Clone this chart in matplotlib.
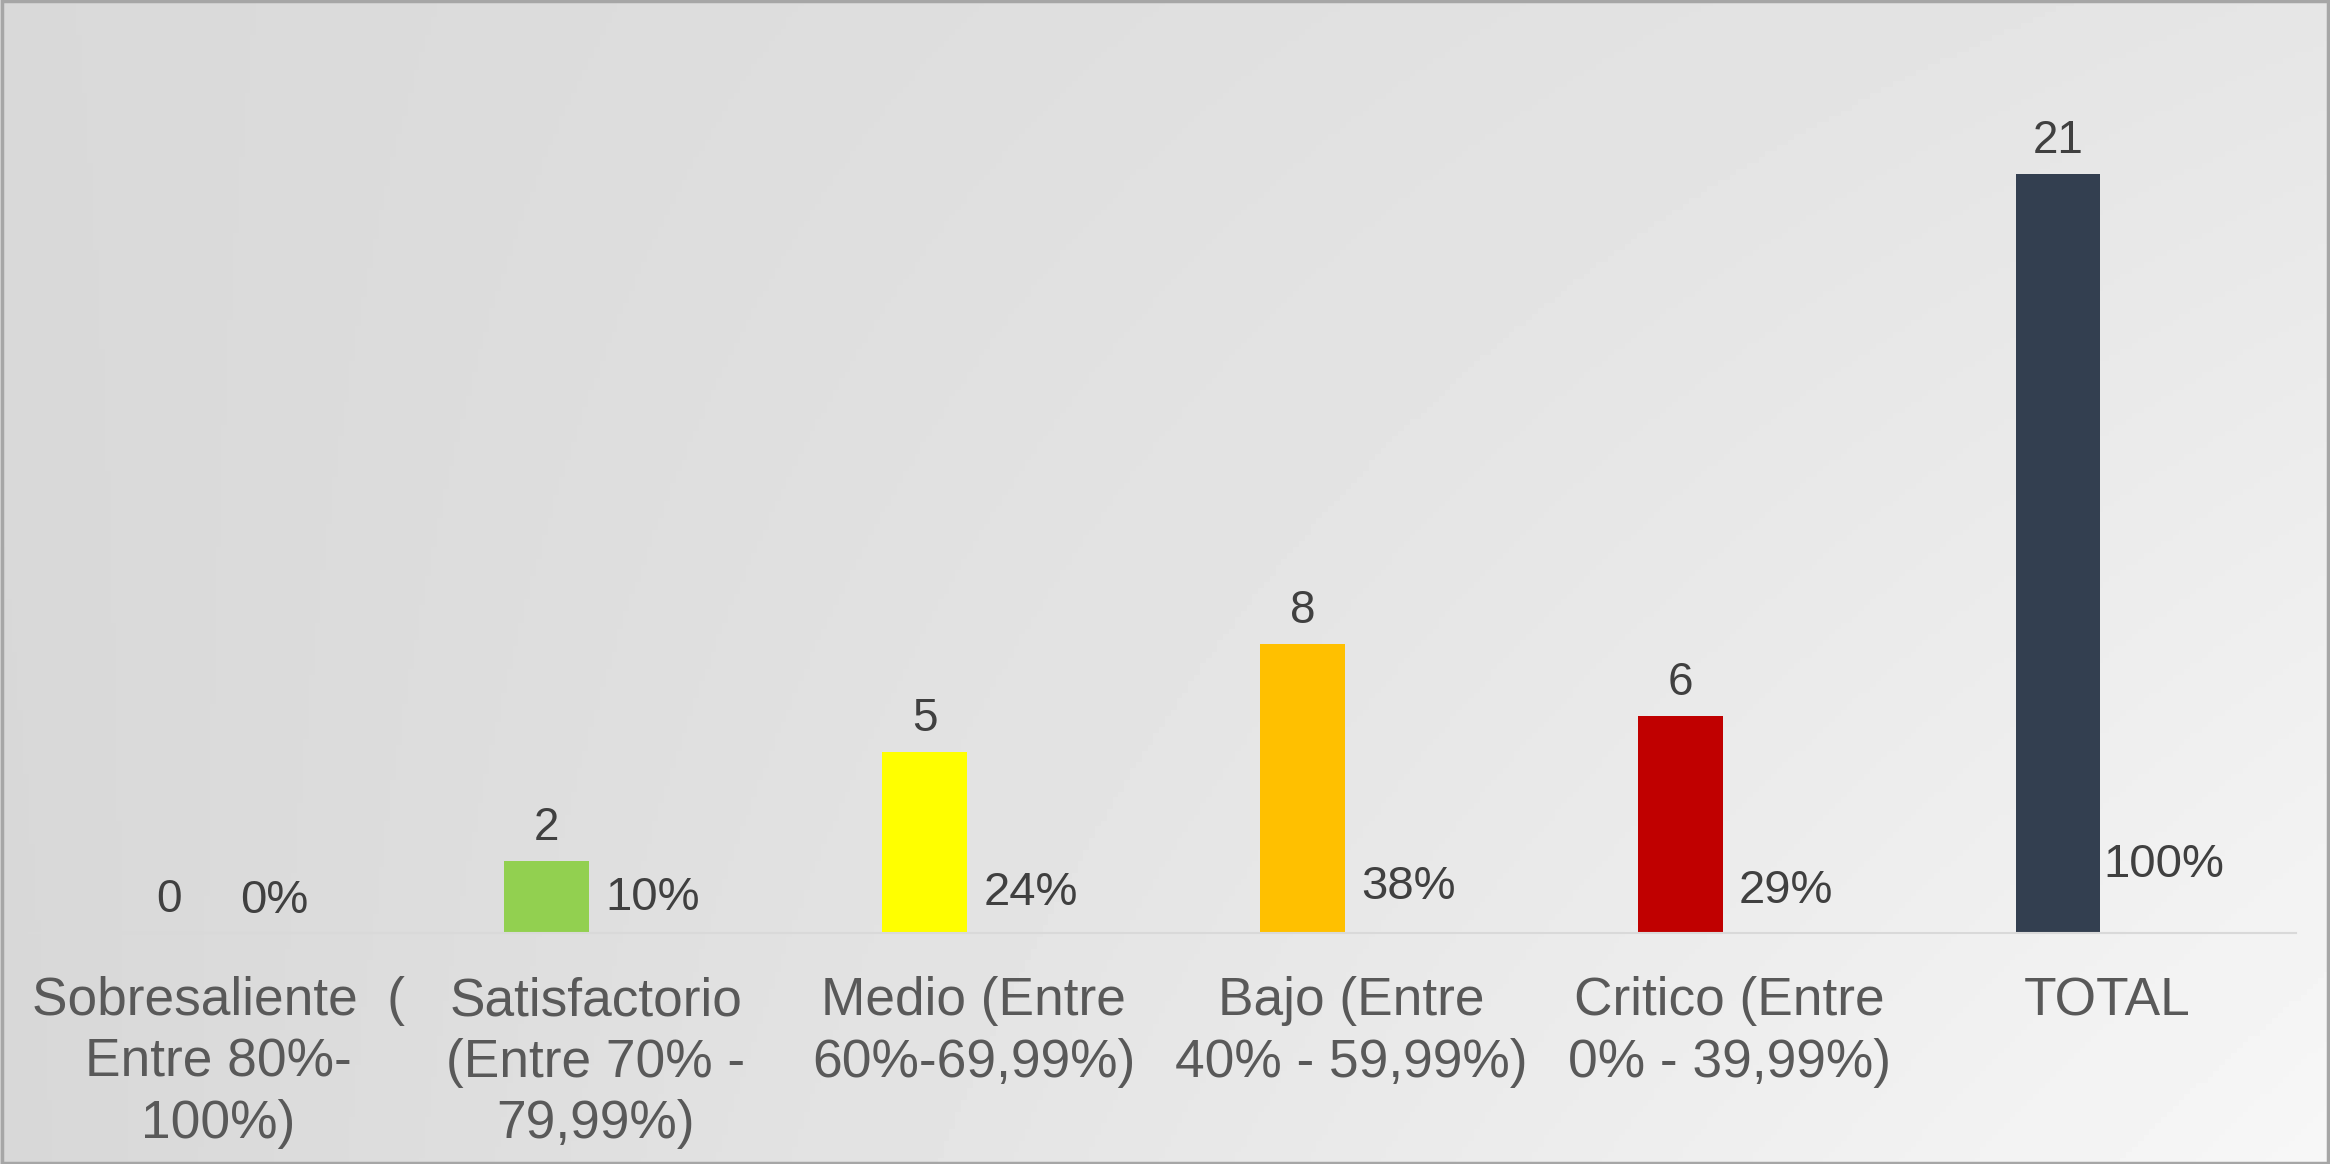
import numpy as np
import matplotlib.pyplot as plt
from matplotlib.patches import Rectangle

categorias = [
    "Sobresaliente  (\nEntre 80%-\n100%)",
    "Satisfactorio\n(Entre 70% -\n79,99%)",
    "Medio (Entre\n60%-69,99%)",
    "Bajo (Entre\n40% - 59,99%)",
    "Critico (Entre\n0% - 39,99%)",
    "TOTAL",
]
cantidad = [0, 2, 5, 8, 6, 21]
porcentaje = [0.00, 0.10, 0.24, 0.38, 0.29, 1.00]
colores = ["#92D050", "#92D050", "#FFFF00", "#FFC000", "#C00000", "#333F50"]

plt.rcParams['font.family'] = ['Liberation Sans', 'DejaVu Sans']

fig = plt.figure(figsize=(23.3, 11.64), dpi=100)

# fondo con degradado gris
bg = fig.add_axes([0, 0, 1, 1], zorder=-10)
gx, gy = np.meshgrid(np.linspace(0, 1, 400), np.linspace(0, 1, 200))
tl, tr, bl, br = 0.85, 0.90, 0.845, 0.968
grad = tl*(1-gx)*(1-gy) + tr*gx*(1-gy) + bl*(1-gx)*gy + br*gx*gy
bg.imshow(grad, cmap='gray', vmin=0, vmax=1, aspect='auto', extent=[0, 1, 1, 0])
bg.set_xlim(0, 1)
bg.set_ylim(1, 0)
bg.axis('off')

ax = fig.add_axes([0.0125, 0.1985, 0.973, 0.7765])
ax.patch.set_alpha(0)

x = np.arange(len(categorias))
ancho = 0.224

b1 = ax.bar(x - 0.13, cantidad, ancho, color=colores)
b2 = ax.bar(x + 0.15, porcentaje, ancho, color='none')

ax.bar_label(b1, labels=[str(v) for v in cantidad], padding=8,
             fontsize=33, color='#404040')
ax.bar_label(b2, labels=[f"{round(p*100)}%" for p in porcentaje], padding=7,
             fontsize=34, color='#404040')

ax.set_xlim(-0.5, len(categorias) - 0.5)
ax.set_ylim(0, 25)
ax.set_yticks([])
ax.set_xticks(x)
ax.set_xticklabels(categorias, fontsize=38.3, color='#595959', linespacing=1.3)
ax.tick_params(axis='x', length=0, pad=31)

for s in ['top', 'right', 'left']:
    ax.spines[s].set_visible(False)
ax.spines['bottom'].set_color('#D9D9D9')
ax.spines['bottom'].set_linewidth(1.5)

# borde del grafico
fig.patches.append(Rectangle((0.001, 0.001), 0.998, 0.998, transform=fig.transFigure,
                             fill=False, edgecolor='#A6A6A6', linewidth=2.5))

fig.savefig('out.png', dpi=100)
